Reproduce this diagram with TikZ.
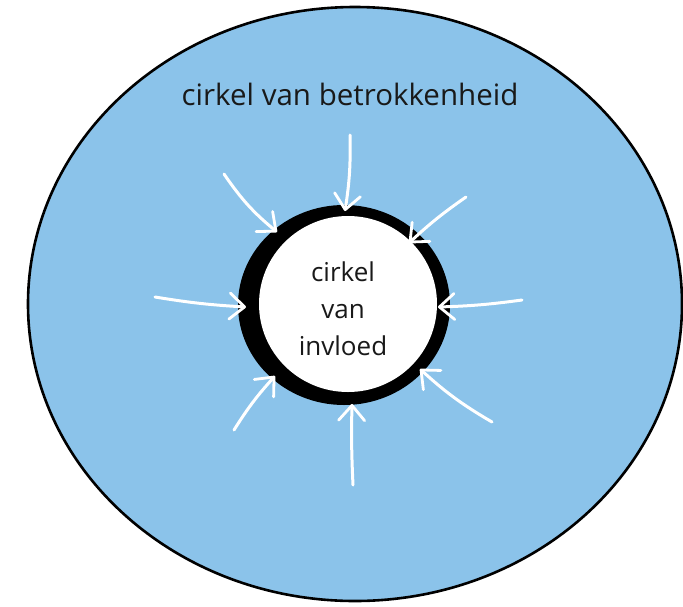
\documentclass[tikz,border=0pt]{standalone}
\usepackage{fontspec}
\setmainfont{Open Sans}
\usetikzlibrary{arrows.meta}
\definecolor{skyfill}{RGB}{139,195,234}
\tikzset{
  inarrow/.style={draw=white, line width=3pt, line cap=round,
    -{Straight Barb[length=15pt, width=26pt, line width=2.8pt, round]}},
  handtext/.style={font=\fontsize{26}{37}\selectfont, align=center, text=black!90, inner sep=0pt},
}
\begin{document}
\begin{tikzpicture}[x=1pt, y=-1pt]
\useasboundingbox (0,0) rectangle (683,606);
% outer circle of concern
\draw[fill=skyfill, line width=2.6pt] (355,304) ellipse [x radius=327, y radius=297];
% ring
\fill[black] (344,305) ellipse [x radius=106, y radius=100];
\fill[white] (348,304) ellipse [x radius=89, y radius=88];
% labels
\node[handtext, font=\fontsize{29.5}{34}\selectfont, anchor=base] (outer) at (350,105) {cirkel van betrokkenheid};
\node[handtext] (inner) at (343,309) {cirkel\\van\\invloed};
% arrow end points
\coordinate (s1) at (350,135); \coordinate (t1) at (345,211);
\coordinate (s2) at (224,174); \coordinate (t2) at (277,232);
\coordinate (s3) at (466,197); \coordinate (t3) at (409,243);
\coordinate (s4) at (522,300); \coordinate (t4) at (438,307);
\coordinate (s5) at (155,297); \coordinate (t5) at (246,307);
\coordinate (s6) at (234,430); \coordinate (t6) at (275,376);
\coordinate (s7) at (353,485); \coordinate (t7) at (352,404);
\coordinate (s8) at (492,422); \coordinate (t8) at (420,369);
\draw[inarrow] (s1) to[bend left=5] (t1);
\draw[inarrow] (s2) to[bend right=8] (t2);
\draw[inarrow] (s3) to[bend right=4] (t3);
\draw[inarrow] (s4) to[bend left=3] (t4);
\draw[inarrow] (s5) to[bend right=3] (t5);
\draw[inarrow] (s6) to[bend left=5] (t6);
\draw[inarrow] (s7) to[bend left=2] (t7);
\draw[inarrow] (s8) to[bend left=6] (t8);
\end{tikzpicture}
\end{document}
